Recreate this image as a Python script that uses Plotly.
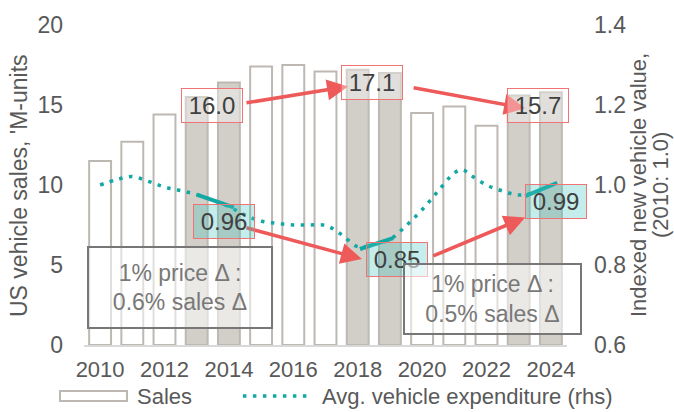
import plotly.graph_objects as go

# ---------------- data ----------------
years = [2010, 2011, 2012, 2013, 2014, 2015, 2016, 2017, 2018, 2019, 2020, 2021, 2022, 2023, 2024]
sales = [11.5, 12.7, 14.4, 15.5, 16.4, 17.4, 17.5, 17.1, 17.2, 17.0, 14.5, 14.9, 13.7, 15.6, 15.8]
highlight_years = [2013, 2014, 2018, 2019, 2023, 2024]

# Avg. vehicle expenditure index (2010 = 1.0), read at half-year steps
exp_x = [2010.0, 2010.5, 2011.0, 2011.5, 2012.0, 2012.5, 2013.0, 2013.5, 2014.0, 2014.5,
         2015.0, 2015.5, 2016.0, 2016.5, 2017.0, 2017.5, 2018.0, 2018.5, 2019.0, 2019.5,
         2020.0, 2020.5, 2021.0, 2021.25, 2021.5, 2022.0, 2022.5, 2023.0, 2023.5, 2024.0, 2024.2]
exp_y = [1.000, 1.013, 1.021, 1.009, 0.995, 0.986, 0.976, 0.962, 0.946, 0.925,
         0.910, 0.904, 0.900, 0.900, 0.899, 0.876, 0.846, 0.852, 0.864, 0.898,
         0.938, 0.985, 1.030, 1.038, 1.025, 1.000, 0.985, 0.975, 0.982, 0.999, 1.005]

# period trend segments (solid)
seg1_x, seg1_y = [2013.0, 2014.15], [0.976, 0.944]
seg2_x, seg2_y = [2018.07, 2019.1], [0.840, 0.867]
seg3_x, seg3_y = [2023.2, 2024.18], [0.972, 1.005]

sales_period_labels = ["16.0", "17.1", "15.7"]
index_period_labels = ["0.96", "0.85", "0.99"]
elasticity_labels = ["1% price Δ :<br>0.6% sales Δ", "1% price Δ :<br>0.5% sales Δ"]

x_ticks = [2010, 2012, 2014, 2016, 2018, 2020, 2022, 2024]
y_ticks = [0, 5, 10, 15, 20]
y2_ticks = [0.6, 0.8, 1.0, 1.2, 1.4]
y2_ticklabels = ["0.6", "0.8", "1.0", "1.2", "1.4"]

left_title = "US vehicle sales, 'M-units"
right_title = ["Indexed new vehicle value,", "(2010: 1.0)"]
legend_names = ["Sales", "Avg. vehicle expenditure (rhs)"]

# ---------------- style ----------------
FONT = "Liberation Sans, Arial, sans-serif"
TXT = "#595959"
OUTLINE = "#BDB8B1"
SHADE = "#D2CEC8"
TEAL = "#14A8A4"
RED = "#EE5A5A"
FS = 23

bar_fill = [SHADE if y in highlight_years else "white" for y in years]

fig = go.Figure()
fig.add_trace(go.Bar(
    x=years, y=sales, width=0.68, name=legend_names[0], showlegend=False,
    marker=dict(color=bar_fill, line=dict(color=OUTLINE, width=2)),
    yaxis="y",
))
fig.add_trace(go.Scatter(
    x=exp_x, y=exp_y, mode="lines", name=legend_names[1], showlegend=False,
    line=dict(color=TEAL, width=3.5, dash="3.5px,6.5px", shape="spline", smoothing=1.0),
    yaxis="y2",
))
for sx, sy in [(seg1_x, seg1_y), (seg2_x, seg2_y), (seg3_x, seg3_y)]:
    fig.add_trace(go.Scatter(x=sx, y=sy, mode="lines", showlegend=False,
                             line=dict(color=TEAL, width=4), yaxis="y2", hoverinfo="skip"))

annotations = []
# arrows
for (x0, y0, x1, y1, ref) in [
    (2014.50, 15.12, 2017.70, 16.16, "y"),
    (2019.69, 16.10, 2023.20, 14.80, "y"),
    (2014.50, 0.894, 2018.13, 0.815, "y2"),
    (2020.30, 0.821, 2023.20, 0.919, "y2"),
]:
    annotations.append(dict(
        x=x1, y=y1, ax=x0, ay=y0, xref="x", yref=ref, axref="x", ayref=ref,
        text="", showarrow=True, arrowhead=2, arrowsize=1.2, arrowwidth=3.5,
        arrowcolor=RED, standoff=0,
    ))

# period value boxes
sales_box_pos = [(2013.46, 14.95), (2018.43, 16.4), (2023.6, 15.0)]
for (bx, by), lab in zip(sales_box_pos, sales_period_labels):
    annotations.append(dict(
        x=bx, y=by, xref="x", yref="y", text=lab, showarrow=False,
        font=dict(family=FONT, size=24, color="#404040"),
        bgcolor="rgba(255,255,255,0.35)", bordercolor="#F07474", borderwidth=1,
        borderpad=1, width=58, height=31,
    ))
index_box_pos = [(2013.84, 0.909), (2019.22, 0.815), (2024.16, 0.958)]
elast_pos = [(2012.48, 3.59, 180, 77), (2022.19, 2.88, 173, 66)]

annotations.append(dict(
    x=elast_pos[0][0], y=elast_pos[0][1], xref="x", yref="y", text=elasticity_labels[0],
    showarrow=False, font=dict(family=FONT, size=FS, color="#787878"),
    bgcolor="rgba(255,255,255,0.55)", bordercolor="#777777", borderwidth=2,
    borderpad=1, width=elast_pos[0][2], height=elast_pos[0][3],
))
for (bx, by), lab in zip(index_box_pos, index_period_labels):
    annotations.append(dict(
        x=bx, y=by, xref="x", yref="y2", text=lab, showarrow=False,
        font=dict(family=FONT, size=24, color="#404040"),
        bgcolor="rgba(64,196,190,0.30)", bordercolor="#F07474", borderwidth=1,
        borderpad=1, width=58, height=31,
    ))
annotations.append(dict(
    x=elast_pos[1][0], y=elast_pos[1][1], xref="x", yref="y", text=elasticity_labels[1],
    showarrow=False, font=dict(family=FONT, size=FS, color="#787878"),
    bgcolor="rgba(255,255,255,0.55)", bordercolor="#777777", borderwidth=2,
    borderpad=1, width=elast_pos[1][2], height=elast_pos[1][3],
))

# axis titles
annotations.append(dict(x=-0.1346, y=0.5, xref="paper", yref="paper", text=left_title,
                        textangle=-90, showarrow=False, xanchor="center", yanchor="middle",
                        font=dict(family=FONT, size=FS, color=TXT)))
for px_x, line in zip([1.147, 1.1925], right_title):
    annotations.append(dict(x=px_x, y=0.5, xref="paper", yref="paper", text=line,
                            textangle=-90, showarrow=False, xanchor="center", yanchor="middle",
                            font=dict(family=FONT, size=22, color=TXT)))

# legend (drawn manually to match the wide bar swatch)
LEG_Y = -0.1595
shapes = [
    dict(type="rect", xref="paper", yref="paper", x0=-0.0497, x1=0.089, y0=LEG_Y - 0.0155, y1=LEG_Y + 0.0155,
         line=dict(color=OUTLINE, width=2), fillcolor="white"),
    dict(type="line", xref="paper", yref="paper", x0=0.329, x1=0.468, y0=LEG_Y, y1=LEG_Y,
         line=dict(color=TEAL, width=3.5, dash="3.5px,6.5px")),
]
annotations.append(dict(x=0.1056, y=LEG_Y, xref="paper", yref="paper", text=legend_names[0],
                        showarrow=False, xanchor="left", yanchor="middle",
                        font=dict(family=FONT, size=22, color=TXT)))
annotations.append(dict(x=0.4886, y=LEG_Y, xref="paper", yref="paper", text=legend_names[1],
                        showarrow=False, xanchor="left", yanchor="middle",
                        font=dict(family=FONT, size=22, color=TXT)))

fig.update_layout(
    width=674, height=412,
    margin=dict(l=84, r=107, t=19, b=67),
    paper_bgcolor="white", plot_bgcolor="white",
    font=dict(family=FONT, size=FS, color=TXT),
    showlegend=False,
    xaxis=dict(range=[2009.5, 2024.5], tickvals=x_ticks, ticktext=[str(t) for t in x_ticks],
               showgrid=False, zeroline=False, showline=True, linecolor="#D9D9D9", linewidth=2,
               ticks="", tickfont=dict(size=22, color=TXT), ticklabelstandoff=4),
    yaxis=dict(range=[0, 20], tickvals=y_ticks, showgrid=False, zeroline=False, showline=False,
               ticks="", tickfont=dict(size=FS, color=TXT), ticklabelstandoff=20),
    yaxis2=dict(range=[0.6, 1.4], tickvals=y2_ticks, ticktext=y2_ticklabels, overlaying="y", side="right",
                showgrid=False, zeroline=False, showline=False, ticks="",
                tickfont=dict(size=FS, color=TXT), ticklabelstandoff=26),
    annotations=annotations,
    shapes=shapes,
)

# remove the browser's default 8px page margin so the 674x412 figure fills the window
fig.write_html("out.html", config={"displayModeBar": False},
               post_script="document.body.style.margin='0px';")
